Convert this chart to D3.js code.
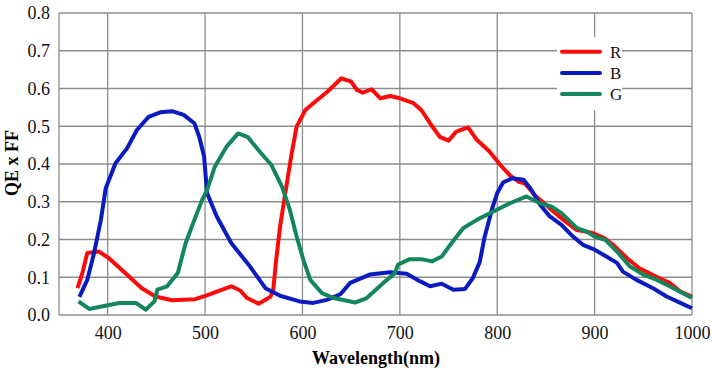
<!DOCTYPE html>
<html><head><meta charset="utf-8">
<script src="https://cdn.jsdelivr.net/npm/d3@7"></script>
<style>body{margin:0;background:#fff}svg{display:block}svg text{font-family:'Liberation Serif','Times New Roman',serif}</style>
</head><body><div id="chart"></div>
<script>
const seriesNames = ["R","B","G"];
const seriesColors = ["#fa0a0a","#0b1bbf","#13875b"];
const xTicks = [400,500,600,700,800,900,1000];
const yTicks = [0,0.1,0.2,0.3,0.4,0.5,0.6,0.7,0.8];
const yTickLabels = ["0.0","0.1","0.2","0.3","0.4","0.5","0.6","0.7","0.8"];

const rWl = [369,374,379,391,401,418,435,449,466,490,504,514,527,536,543,555,567,570,573,577,584,589,594,603,613,625,640,650,656,662,671,680,690,700,714,722,731,741,750,758,770,779,792,803,813,822,828,840,854,868,881,898,910,919,933,946,963,977,988,1000];
const rQe = [0.071,0.111,0.164,0.168,0.151,0.111,0.071,0.049,0.039,0.042,0.054,0.064,0.076,0.065,0.045,0.030,0.048,0.067,0.146,0.234,0.349,0.429,0.499,0.543,0.565,0.590,0.627,0.618,0.596,0.589,0.598,0.574,0.580,0.574,0.561,0.543,0.508,0.472,0.462,0.486,0.497,0.464,0.433,0.398,0.370,0.353,0.349,0.314,0.283,0.252,0.226,0.217,0.204,0.186,0.151,0.124,0.102,0.085,0.062,0.049];

const bWl = [371,379,386,393,398,408,420,430,442,454,466,478,489,494,499,502,512,527,546,562,577,597,611,625,639,649,669,690,707,721,731,743,755,767,775,782,787,795,800,806,815,827,834,844,854,866,876,888,900,912,923,929,943,960,974,988,1000];
const bQe = [0.048,0.093,0.164,0.252,0.336,0.402,0.442,0.490,0.525,0.537,0.540,0.530,0.508,0.472,0.420,0.323,0.261,0.190,0.129,0.071,0.051,0.036,0.032,0.040,0.055,0.085,0.107,0.113,0.109,0.089,0.076,0.083,0.067,0.069,0.098,0.140,0.206,0.284,0.323,0.351,0.362,0.358,0.336,0.292,0.261,0.239,0.212,0.186,0.173,0.155,0.138,0.115,0.093,0.071,0.049,0.032,0.018];

const gWl = [370,381,395,412,429,439,448,451,461,472,480,489,497,502,510,522,534,544,556,568,579,587,594,601,608,620,632,654,666,683,695,698,710,722,733,743,753,765,779,796,813,830,844,856,866,882,892,900,911,923,936,950,964,977,1000];
const gQe = [0.036,0.016,0.023,0.032,0.032,0.014,0.036,0.067,0.076,0.111,0.190,0.252,0.305,0.331,0.393,0.446,0.481,0.471,0.433,0.398,0.340,0.279,0.208,0.146,0.093,0.058,0.045,0.033,0.045,0.085,0.111,0.133,0.148,0.148,0.142,0.155,0.190,0.230,0.252,0.274,0.296,0.314,0.296,0.287,0.270,0.230,0.221,0.208,0.199,0.168,0.129,0.107,0.093,0.076,0.045];

const W = 712, H = 372;
const m = {left:59, right:20, top:13, bottom:57};
const svg = d3.select("#chart").append("svg").attr("width",W).attr("height",H);
const x = d3.scaleLinear().domain([350,1000]).range([m.left, W-m.right]);
const y = d3.scaleLinear().domain([0,0.8]).range([H-m.bottom, m.top]);
const font = "'Liberation Serif','Times New Roman',serif";
const grid = "#8c8c8c";

// grid
const g = svg.append("g");
g.selectAll(".hx").data(yTicks).join("line")
  .attr("x1",x(350)).attr("x2",x(1000)).attr("y1",d=>y(d)).attr("y2",d=>y(d))
  .attr("stroke",grid).attr("stroke-width",1.3);
g.selectAll(".vx").data([350].concat(xTicks)).join("line")
  .attr("y1",y(0)).attr("y2",y(0.8)).attr("x1",d=>x(d)).attr("x2",d=>x(d))
  .attr("stroke",grid).attr("stroke-width",1.3);

// axes labels
const yAxis = d3.axisLeft(y).tickValues(yTicks).tickSize(0).tickPadding(9)
  .tickFormat((d,i)=>yTickLabels[i]);
svg.append("g").attr("transform",`translate(${m.left},0)`).call(yAxis)
  .attr("font-family",font)
  .call(s=>s.select(".domain").remove())
  .selectAll("text").attr("font-size",18).attr("fill","#111");
const xAxis = d3.axisBottom(x).tickValues(xTicks).tickSize(0).tickPadding(11).tickFormat(d3.format("d"));
svg.append("g").attr("transform",`translate(0,${y(0)})`).call(xAxis)
  .attr("font-family",font)
  .call(s=>s.select(".domain").remove())
  .selectAll("text").attr("font-size",18).attr("fill","#111");

svg.append("text").attr("x",376).attr("y",364).attr("text-anchor","middle")
  .attr("font-family",font).attr("font-weight","bold").attr("font-size",18).text("Wavelength(nm)");
svg.append("text").attr("transform","translate(18,163) rotate(-90)").attr("text-anchor","middle")
  .attr("font-family",font).attr("font-weight","bold").attr("font-size",18).text("QE x FF");

// lines
const data = [[rWl,rQe],[bWl,bQe],[gWl,gQe]];
const line = d3.line().x(d=>x(d[0])).y(d=>y(d[1]));
[0,1,2].forEach(i=>{
  const pts = data[i][0].map((w,j)=>[w,data[i][1][j]]);
  svg.append("path").datum(pts).attr("d",line).attr("fill","none")
    .attr("stroke",seriesColors[i]).attr("stroke-width",4).attr("stroke-linejoin","round");
});

// legend
const lg = svg.append("g");
lg.append("rect").attr("x",557).attr("y",37).attr("width",65).attr("height",73).attr("fill","#fff");
seriesNames.forEach((n,i)=>{
  const yy = 51.7 + i*21.2;
  lg.append("line").attr("x1",562).attr("x2",600).attr("y1",yy).attr("y2",yy)
    .attr("stroke",seriesColors[i]).attr("stroke-width",4).attr("stroke-linecap","round");
  lg.append("text").attr("x",610).attr("y",yy+6).attr("font-family",font).attr("font-size",17)
    .attr("fill","#111").text(n);
});
</script></body></html>
